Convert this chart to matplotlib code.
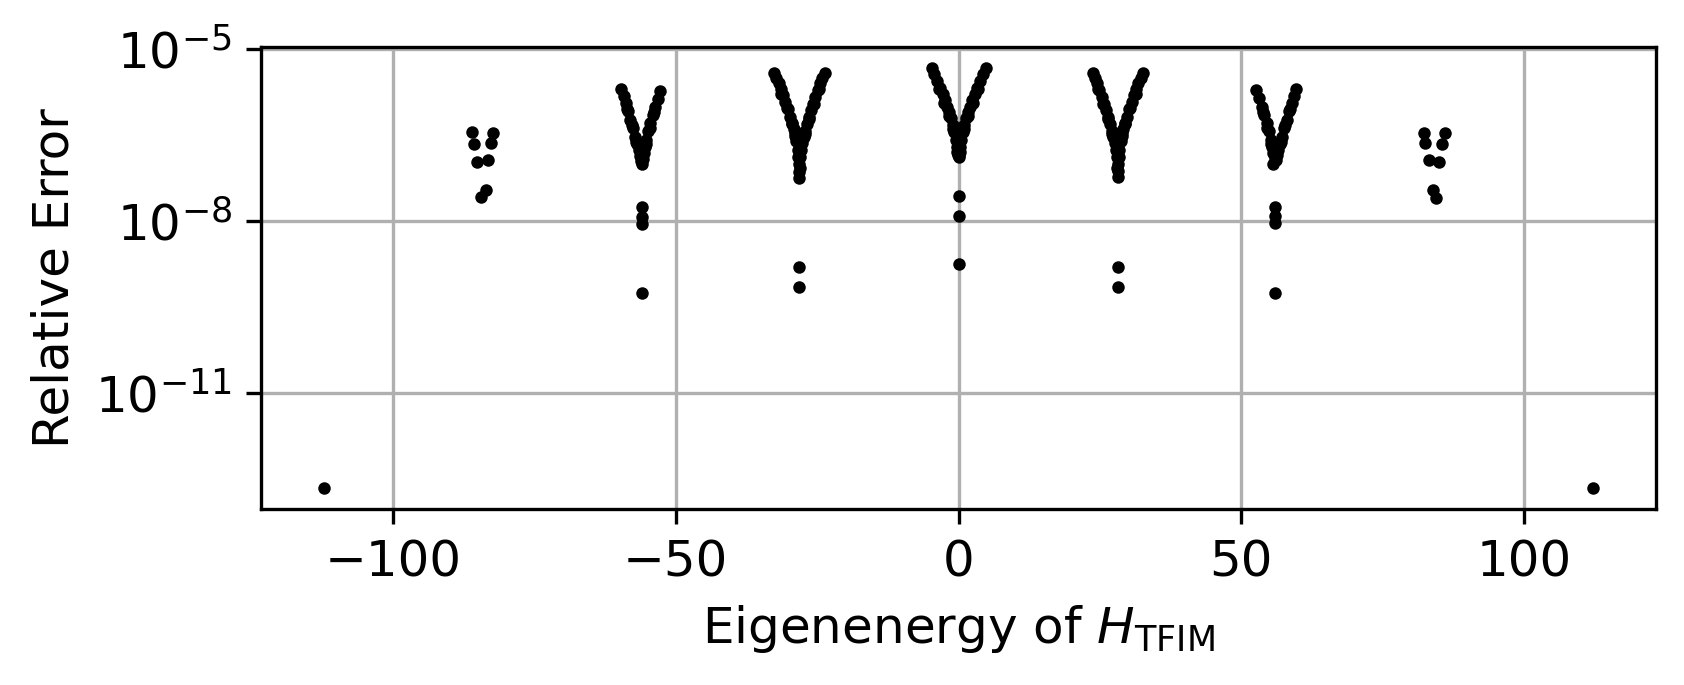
import numpy as np
import matplotlib
matplotlib.use("Agg")
import matplotlib.pyplot as plt
from matplotlib.ticker import NullLocator

# eigenenergies of H_TFIM and log10 of the relative error, one list pair per cluster

E_m112 = [-112.1]
lerr_m112 = [-12.67]

E_m84 = [-85.97, -85.6, -82.3, -82.7, -85.1, -83.1, -83.6, -84.4]
lerr_m84 = [-6.45, -6.65, -6.47, -6.64, -6.97, -6.93, -7.45, -7.58]

E_m56 = [-59.6, -59.2, -58.85, -58.4, -58.0, -57.55, -57.1, -56.75, -56.5, -56.25,
         -52.7, -53.15, -53.6, -54.05, -54.5, -54.85, -55.2, -55.45, -55.6,
         -58.6, -57.8, -57.0, -53.8, -54.6, -55.3,
         -56.0, -55.85, -56.1,
         -56.0, -56.0, -56.0, -56.0]
lerr_m56 = [-5.69, -5.82, -5.94, -6.08, -6.23, -6.38, -6.53, -6.65, -6.76, -6.86,
            -5.72, -5.86, -6.00, -6.14, -6.29, -6.43, -6.58, -6.70, -6.82,
            -6.05, -6.33, -6.62, -6.10, -6.38, -6.66,
            -7.01, -6.92, -6.95,
            -7.75, -7.93, -8.05, -9.26]

E_m28 = [-32.6, -32.2, -31.8, -31.45, -31.1, -30.7, -30.2, -29.75, -29.35, -29.05, -28.85, -28.65, -28.45, -28.35,
         -23.65, -24.05, -24.45, -24.9, -25.3, -25.75, -26.15, -26.5, -26.85, -27.15, -27.4, -27.6, -27.8, -27.95,
         -31.3, -30.4, -29.5, -28.9, -24.7, -25.6, -26.4, -27.1,
         -28.15, -28.1, -28.2, -28.15,
         -28.15, -28.15]
lerr_m28 = [-5.41, -5.50, -5.59, -5.69, -5.80, -5.92, -6.05, -6.18, -6.30, -6.40, -6.47, -6.60, -6.76, -6.88,
            -5.42, -5.50, -5.59, -5.71, -5.83, -5.95, -6.06, -6.18, -6.30, -6.42, -6.53, -6.64, -6.76, -6.88,
            -5.78, -6.02, -6.28, -6.52, -5.70, -5.96, -6.22, -6.48,
            -7.00, -7.08, -7.14, -7.24,
            -8.80, -9.15]

E_0 = [-4.74, -4.25, -3.75, -3.25, -2.8, -2.39, -1.95, -1.6, -1.3, -1.0, -0.74, -0.52, -0.35, -0.2,
       4.82, 4.3, 3.8, 3.3, 2.85, 2.4, 1.95, 1.6, 1.3, 1.0, 0.75, 0.52, 0.35, 0.2,
       -3.4, -2.5, -1.7, -1.0, 3.4, 2.5, 1.7, 1.0,
       0.0, 0.05, -0.05,
       0.0, 0.0, 0.0]
lerr_0 = [-5.33, -5.43, -5.55, -5.67, -5.78, -5.89, -6.00, -6.10, -6.20, -6.32, -6.45, -6.58, -6.70, -6.80,
          -5.33, -5.43, -5.55, -5.67, -5.78, -5.89, -6.00, -6.10, -6.20, -6.32, -6.45, -6.58, -6.70, -6.80,
          -5.70, -5.94, -6.16, -6.40, -5.70, -5.94, -6.16, -6.40,
          -6.88, -6.84, -6.84,
          -7.56, -7.91, -8.75]

E_28 = [23.72, 24.1, 24.44, 24.9, 25.32, 25.75, 26.15, 26.5, 26.85, 27.15, 27.38, 27.6, 27.8, 27.97,
        32.57, 32.2, 31.8, 31.45, 31.1, 30.7, 30.2, 29.74, 29.35, 29.05, 28.85, 28.65, 28.44, 28.35,
        24.7, 25.6, 26.4, 27.1, 31.3, 30.4, 29.5, 28.9,
        28.15, 28.1, 28.2, 28.15,
        28.15, 28.15]
lerr_28 = [-5.41, -5.50, -5.59, -5.71, -5.83, -5.95, -6.06, -6.18, -6.30, -6.42, -6.53, -6.64, -6.76, -6.88,
           -5.41, -5.50, -5.59, -5.69, -5.80, -5.92, -6.05, -6.18, -6.30, -6.40, -6.47, -6.60, -6.76, -6.88,
           -5.70, -5.96, -6.22, -6.48, -5.78, -6.02, -6.28, -6.52,
           -7.00, -7.08, -7.13, -7.23,
           -8.80, -9.15]

E_56 = [52.61, 53.1, 53.61, 54.05, 54.5, 54.85, 55.19, 55.4, 55.55,
        59.68, 59.3, 58.92, 58.45, 58.03, 57.6, 57.15, 56.8, 56.56, 56.3,
        53.8, 54.6, 55.3, 58.6, 57.8, 57.0,
        55.67, 56.1, 55.9,
        55.97, 55.97, 55.97, 55.97]
lerr_56 = [-5.71, -5.85, -6.00, -6.14, -6.29, -6.43, -6.58, -6.70, -6.82,
           -5.70, -5.82, -5.94, -6.08, -6.23, -6.38, -6.53, -6.65, -6.76, -6.85,
           -6.10, -6.38, -6.66, -6.05, -6.33, -6.62,
           -7.00, -6.93, -6.90,
           -7.75, -7.92, -8.04, -9.25]

E_84 = [82.2, 82.5, 86.0, 85.4, 83.1, 85.0, 83.8, 84.4]
lerr_84 = [-6.47, -6.64, -6.47, -6.65, -6.93, -6.97, -7.45, -7.59]

E_112 = [112.1]
lerr_112 = [-12.67]

energies = np.concatenate([E_m112, E_m84, E_m56, E_m28, E_0, E_28, E_56, E_84, E_112])
log_err = np.concatenate([lerr_m112, lerr_m84, lerr_m56, lerr_m28, lerr_0,
                          lerr_28, lerr_56, lerr_84, lerr_112])
rel_err = 10.0 ** log_err

fig = plt.figure(figsize=(1685 / 300, 685 / 300), dpi=300)
ax = fig.add_axes([0.1549, 0.2569, 0.8279, 0.6745])

ax.plot(energies, rel_err, 'o', color='k', markersize=3.0, markeredgewidth=0)
ax.set_yscale('log')
ax.set_xlim(-123.3, 123.3)
ax.set_ylim(10 ** -13.03, 10 ** -4.96)
ax.set_yticks([1e-11, 1e-8, 1e-5])
ax.yaxis.set_minor_locator(NullLocator())
ax.set_xticks([-100, -50, 0, 50, 100])
ax.tick_params(labelsize=12)
ax.grid(True)

ax.set_xlabel(r'Eigenenergy of $H_{\mathrm{TFIM}}$', fontsize=12)
ax.set_ylabel('Relative Error', fontsize=12)

fig.savefig('out.png', dpi=300)
